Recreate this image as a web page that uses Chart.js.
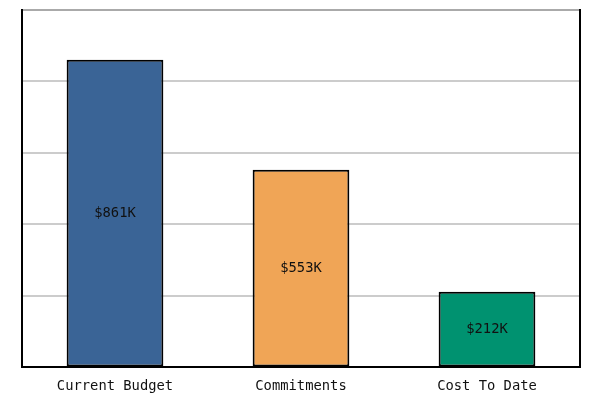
<!DOCTYPE html>
<html>
<head>
<meta charset="utf-8">
<script src="https://cdn.jsdelivr.net/npm/chart.js@4/dist/chart.umd.min.js"></script>
<style>
  html, body { margin: 0; padding: 0; background: #fff; }
  #wrap { width: 608px; height: 403px; }
</style>
</head>
<body>
<div id="wrap"><canvas id="budgetChart"></canvas></div>
<script>
const categories = ['Current Budget', 'Commitments', 'Cost To Date'];
const amountsK = [861, 553, 212];
const barColors = ['#3A6496', '#F0A556', '#009270'];
const yMax = 1000;
const yStep = 200;

const monoFont = '"DejaVu Sans Mono", "Liberation Mono", monospace';

// writes $xxxK in the middle of each bar
const barLabels = {
  id: 'barLabels',
  afterDatasetsDraw(chart) {
    const ctx = chart.ctx;
    const meta = chart.getDatasetMeta(0);
    ctx.save();
    ctx.font = '13.8px ' + monoFont;
    ctx.fillStyle = '#111';
    ctx.textAlign = 'center';
    ctx.textBaseline = 'middle';
    meta.data.forEach((bar, i) => {
      const mid = (bar.y + bar.base) / 2;
      ctx.fillText('$' + amountsK[i] + 'K', bar.x, mid);
    });
    ctx.restore();
  }
};

new Chart(document.getElementById('budgetChart'), {
  type: 'bar',
  data: {
    labels: categories,
    datasets: [{
      data: amountsK,
      backgroundColor: barColors,
      borderColor: '#000',
      borderWidth: 2,
      borderSkipped: false,
      categoryPercentage: 1,
      barPercentage: 0.52
    }]
  },
  options: {
    responsive: true,
    maintainAspectRatio: false,
    animation: false,
    layout: { padding: { left: 22, right: 28, top: 10, bottom: -3 } },
    plugins: { legend: { display: false }, tooltip: { enabled: false } },
    scales: {
      x: {
        grid: { display: false, drawTicks: false },
        border: { color: '#000', width: 2 },
        ticks: { color: '#111', font: { family: monoFont, size: 13.8 }, padding: 11 }
      },
      y: {
        min: 0,
        max: yMax,
        ticks: { display: false, stepSize: yStep },
        grid: {
          drawTicks: false,
          color: c => c.tick && c.tick.value === yMax ? '#aaaaaa' : '#cccccc',
          lineWidth: 2
        },
        border: { color: '#000', width: 2 }
      },
      yRight: {
        position: 'right',
        min: 0,
        max: yMax,
        ticks: { display: false },
        grid: { display: false, drawTicks: false },
        border: { color: '#000', width: 2 }
      }
    }
  },
  plugins: [barLabels]
});
</script>
</body>
</html>
